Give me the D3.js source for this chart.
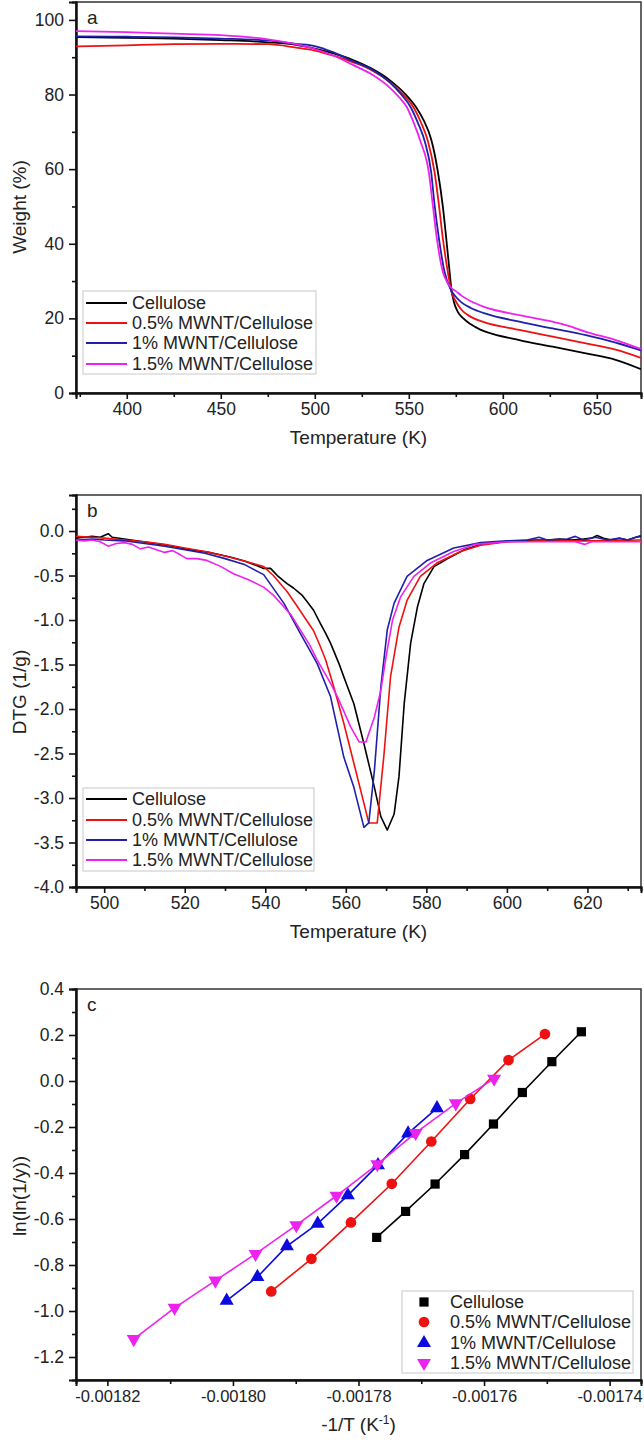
<!DOCTYPE html>
<html><head><meta charset="utf-8">
<script src="https://cdn.jsdelivr.net/npm/d3@7"></script>
<style>
body{margin:0;background:#fff;}
svg{display:block;font-family:"Liberation Sans",Arial,sans-serif;}
</style></head>
<body><svg id="chart" width="644" height="1442"></svg>
<script>
// ---------- DATA ----------
const seriesNames = ["Cellulose","0.5% MWNT/Cellulose","1% MWNT/Cellulose","1.5% MWNT/Cellulose"];
const lineColors = ["#000000","#ee1111","#1f1fa8","#ee22ee"];
const markerColors = ["#000000","#ee1111","#0b0bdd","#ee22ee"];

// Panel a: TGA weight (%) vs temperature (K)
const tgaCellulose = [[373,95.4],[400,95.2],[425,95.0],[450,94.6],[475,94.0],[490,93.3],[500,92.3],[510,91.0],[520,89.3],[530,87.0],[540,83.8],[548,80.2],[554,76.5],[558,73.0],[562,67.8],[565.4,59.5],[568.1,50.0],[569.9,41.5],[571.7,32.5],[572.6,28.0],[574,24.4],[576,21.8],[579,20.0],[583,18.4],[588,17.0],[595,15.8],[608.8,14.2],[626.5,12.4],[644.2,10.6],[660,8.9],[673.5,6.4]];
const tga05 = [[373,92.9],[400,93.2],[425,93.5],[450,93.6],[475,93.5],[490,92.6],[500,91.8],[510,90.4],[520,88.7],[530,86.6],[540,83.3],[547,80.0],[552.5,76.6],[556.5,72.5],[560.1,67.6],[563.6,59.5],[566,50.5],[568.1,41.5],[570.8,32.3],[572.6,27.3],[575,24.6],[578,22.3],[583,20.4],[590,19.0],[608.8,16.9],[626.5,15.1],[644.2,13.3],[660,11.6],[673.5,9.4]];
const tga1 = [[373,95.6],[400,95.5],[425,95.3],[450,95.0],[475,94.5],[490,93.6],[500,93.0],[510,91.3],[520,89.0],[530,86.8],[540,83.2],[546,80.0],[551,76.6],[555,72.2],[558.4,67.6],[561.9,59.2],[563.7,50.5],[566,41.5],[569,32.5],[572.6,27.4],[575,25.8],[578,24.3],[583,22.8],[590,21.4],[608.8,19.1],[626.5,17.3],[644.2,15.5],[660,13.5],[673.5,11.4]];
const tga15 = [[373,97.0],[400,96.7],[425,96.3],[450,95.9],[475,94.8],[490,93.5],[500,92.2],[510,90.4],[520,88.0],[530,85.5],[540,81.8],[545,79.2],[549,76.6],[552.5,72.6],[556.1,67.6],[560.7,59.0],[562.8,50.2],[564.9,41.5],[568.1,32.5],[570.5,29.6],[573,28.0],[575,27.3],[578,26.1],[583,24.6],[590,23.1],[608.8,20.9],[626.5,19.1],[635,18.0],[644.2,16.4],[660,14.2],[673.5,11.8]];

// Panel b: DTG (1/g) vs temperature (K)
const dtgCellulose = [[493,-0.08],[495,-0.07],[497,-0.06],[499,-0.07],[501,-0.03],[502,-0.07],[505,-0.09],[508,-0.11],[511,-0.13],[514,-0.15],[517,-0.17],[520,-0.2],[523,-0.22],[526,-0.24],[529,-0.27],[532,-0.3],[535,-0.34],[538,-0.39],[539.6,-0.42],[541.3,-0.42],[543,-0.5],[545.4,-0.59],[547,-0.64],[549.1,-0.72],[550.5,-0.8],[552,-0.89],[553.7,-1.04],[555,-1.15],[556.2,-1.26],[558.3,-1.49],[560,-1.7],[562,-1.94],[564.5,-2.39],[567.1,-2.88],[568.7,-3.21],[570.3,-3.36],[572,-3.18],[573.2,-2.76],[574.5,-1.94],[576.1,-1.26],[577.8,-0.85],[579.4,-0.59],[581.9,-0.4],[585.3,-0.31],[589.4,-0.21],[593.5,-0.15],[599.4,-0.12],[603,-0.11],[607,-0.1],[610,-0.1],[613,-0.09],[616,-0.1],[619,-0.09],[621,-0.08],[622.4,-0.05],[624,-0.08],[626,-0.1],[628,-0.08],[630,-0.1],[632,-0.07],[633.3,-0.06]];
const dtg05 = [[493,-0.06],[497,-0.07],[500,-0.08],[505,-0.1],[510,-0.12],[515,-0.15],[520,-0.19],[525,-0.23],[530,-0.28],[535,-0.34],[539.6,-0.4],[542,-0.5],[545.4,-0.68],[548,-0.85],[550.2,-1.0],[552,-1.12],[553.7,-1.3],[555,-1.45],[557,-1.75],[559.5,-2.16],[562,-2.61],[564.5,-3.06],[565.7,-3.28],[567.8,-3.28],[569.5,-2.5],[571.1,-1.64],[573.2,-1.08],[575.2,-0.78],[578.5,-0.51],[582.6,-0.36],[588.5,-0.23],[593.5,-0.16],[600,-0.12],[610,-0.11],[620,-0.11],[633.3,-0.1]];
const dtg1 = [[493,-0.1],[497,-0.09],[500,-0.1],[505,-0.11],[510,-0.14],[515,-0.17],[520,-0.21],[525,-0.25],[530,-0.31],[535,-0.38],[539.6,-0.49],[544.6,-0.81],[548.7,-1.15],[552.9,-1.49],[556.2,-1.86],[559.5,-2.54],[562,-2.88],[564.5,-3.33],[565.7,-3.28],[567.1,-2.69],[568.7,-1.75],[570.3,-1.11],[572,-0.81],[575.2,-0.51],[580.2,-0.33],[586.8,-0.19],[593.5,-0.13],[600,-0.11],[605,-0.1],[608,-0.07],[610,-0.1],[615,-0.09],[617,-0.06],[619,-0.1],[622,-0.07],[625,-0.1],[628,-0.08],[630,-0.1],[633.3,-0.05]];
const dtg15 = [[493,-0.1],[495,-0.11],[497,-0.1],[499,-0.12],[501,-0.17],[503,-0.14],[505,-0.13],[507,-0.15],[509,-0.2],[511,-0.18],[513,-0.21],[515,-0.24],[517,-0.22],[519,-0.27],[520.5,-0.31],[523,-0.31],[525.5,-0.33],[529,-0.4],[532.1,-0.48],[536,-0.55],[539.6,-0.63],[542,-0.72],[544.6,-0.85],[546.5,-0.95],[548.7,-1.11],[551,-1.28],[552.9,-1.45],[556.2,-1.71],[557.9,-1.86],[561.2,-2.2],[563.3,-2.37],[565,-2.37],[567.1,-2.09],[568.7,-1.79],[570,-1.41],[571.6,-1.0],[573.6,-0.74],[576.9,-0.51],[581,-0.36],[586.8,-0.23],[592,-0.15],[600,-0.12],[610,-0.12],[617,-0.12],[619.3,-0.15],[621,-0.12],[625,-0.12],[633.3,-0.12]];

// Panel c: ln(ln(1/y)) vs -1/T
const kinCellulose = [[-0.0017771,-0.680],[-0.0017725,-0.567],[-0.0017678,-0.448],[-0.0017631,-0.320],[-0.0017585,-0.187],[-0.0017539,-0.050],[-0.0017492,0.084],[-0.0017445,0.214]];
const kin05 = [[-0.0017939,-0.915],[-0.0017875,-0.773],[-0.0017812,-0.615],[-0.0017747,-0.447],[-0.0017684,-0.263],[-0.0017622,-0.078],[-0.0017561,0.091],[-0.0017503,0.204]];
const kin1 = [[-0.0018010,-0.955],[-0.0017961,-0.852],[-0.0017914,-0.718],[-0.0017865,-0.620],[-0.0017817,-0.497],[-0.0017769,-0.366],[-0.0017721,-0.228],[-0.0017675,-0.118]];
const kin15 = [[-0.0018158,-1.122],[-0.0018093,-0.986],[-0.0018028,-0.868],[-0.0017964,-0.752],[-0.0017899,-0.627],[-0.0017835,-0.499],[-0.0017770,-0.362],[-0.0017709,-0.226],[-0.0017645,-0.097],[-0.0017584,0.010]];

// Ticks
const aXTicks = [400,450,500,550,600,650], aXMinor = [375,425,475,525,575,625];
const aYTicks = [0,20,40,60,80,100], aYMinor = [10,30,50,70,90];
const bXTicks = [500,520,540,560,580,600,620], bXMinor = [510,530,550,570,590,610,630];
const bYTicks = [0,-0.5,-1,-1.5,-2,-2.5,-3,-3.5,-4];
const bYLabels = ["0.0","-0.5","-1.0","-1.5","-2.0","-2.5","-3.0","-3.5","-4.0"];
const bYMinor = [0.25,-0.25,-0.75,-1.25,-1.75,-2.25,-2.75,-3.25,-3.75];
const cXTicks = [-0.00182,-0.00180,-0.00178,-0.00176,-0.00174];
const cXLabels = ["-0.00182","-0.00180","-0.00178","-0.00176","-0.00174"];
const cXMinor = [-0.00181,-0.00179,-0.00177,-0.00175];
const cYTicks = [0.4,0.2,0,-0.2,-0.4,-0.6,-0.8,-1.0,-1.2];
const cYLabels = ["0.4","0.2","0.0","-0.2","-0.4","-0.6","-0.8","-1.0","-1.2"];
const cYMinor = [0.3,0.1,-0.1,-0.3,-0.5,-0.7,-0.9,-1.1];

// ---------- DRAW ----------
const svg = d3.select("#chart");
const L = 76, R = 641;

function panel(cfg){
  const g = svg.append("g");
  const x = d3.scaleLinear().domain(cfg.xd).range([L,R]);
  const y = d3.scaleLinear().domain(cfg.yd).range([cfg.bottom,cfg.top]);
  const id = "clip"+cfg.name;
  svg.append("clipPath").attr("id",id).append("rect")
    .attr("x",L).attr("y",cfg.top).attr("width",R-L).attr("height",cfg.bottom-cfg.top);
  g.append("rect").attr("x",L).attr("y",cfg.top).attr("width",R-L).attr("height",cfg.bottom-cfg.top)
    .attr("fill","none").attr("stroke","#333").attr("stroke-width",1.5);
  const ax = g.append("g").attr("transform",`translate(0,${cfg.bottom})`)
    .call(d3.axisBottom(x).tickValues(cfg.xt).tickSize(6).tickPadding(4).tickFormat((d,i)=>cfg.xl?cfg.xl[i]:d3.format("d")(d)));
  const axm = g.append("g").attr("transform",`translate(0,${cfg.bottom})`)
    .call(d3.axisBottom(x).tickValues(cfg.xm).tickSize(4).tickFormat(""));
  const ay = g.append("g").attr("transform",`translate(${L},0)`)
    .call(d3.axisLeft(y).tickValues(cfg.yt).tickSize(7).tickPadding(5).tickFormat((d,i)=>cfg.yl?cfg.yl[i]:d3.format("d")(d)));
  const aym = g.append("g").attr("transform",`translate(${L},0)`)
    .call(d3.axisLeft(y).tickValues(cfg.ym).tickSize(4).tickFormat(""));
  [ax,axm,ay,aym].forEach(a=>{
    a.select(".domain").attr("stroke","#111").attr("stroke-width",2);
    a.selectAll(".tick line").attr("stroke","#111").attr("stroke-width",1.6);
    a.selectAll(".tick text").attr("font-size",17.5).attr("fill","#222")
     .attr("font-family","'Liberation Sans',Arial,sans-serif");
  });
  g.append("text").attr("x",(L+R)/2).attr("y",cfg.bottom+51).attr("text-anchor","middle")
    .attr("font-size",19).attr("fill","#222").call(t=>cfg.xtitle(t));
  g.append("text").attr("transform",`translate(26,${cfg.ytY}) rotate(-90)`).attr("text-anchor","middle")
    .attr("font-size",19).attr("fill","#222").text(cfg.ytitle);
  g.append("text").attr("x",L+11).attr("y",cfg.top+22).attr("font-size",19).attr("fill","#222").text(cfg.letter);
  return {g,x,y,id,ax};
}

function tempTitle(t){ t.text("Temperature (K)"); }

// Panel a
const pa = panel({name:"a",xd:[373,673.5],yd:[0,104.8],top:2,bottom:393,xt:aXTicks,xm:aXMinor,yt:aYTicks,ym:aYMinor,
  xtitle:tempTitle,ytitle:"Weight (%)",ytY:207,letter:"a"});
const tgaSeries = [tgaCellulose,tga05,tga1,tga15];
const lineA = d3.line().x(d=>pa.x(d[0])).y(d=>pa.y(d[1])).curve(d3.curveMonotoneX);
pa.g.append("g").attr("clip-path",`url(#${pa.id})`).selectAll("path").data(tgaSeries).join("path")
  .attr("d",lineA).attr("fill","none").attr("stroke",(d,i)=>lineColors[i]).attr("stroke-width",1.8);

// Panel b
const pb = panel({name:"b",xd:[493,633.3],yd:[-4,0.405],top:495,bottom:887,xt:bXTicks,xm:bXMinor,yt:bYTicks,yl:bYLabels,ym:bYMinor,
  xtitle:tempTitle,ytitle:"DTG (1/g)",ytY:692,letter:"b"});
const dtgSeries = [dtgCellulose,dtg05,dtg1,dtg15];
const lineB = d3.line().x(d=>pb.x(d[0])).y(d=>pb.y(d[1]));
pb.g.append("g").attr("clip-path",`url(#${pb.id})`).selectAll("path").data(dtgSeries).join("path")
  .attr("d",lineB).attr("fill","none").attr("stroke",(d,i)=>lineColors[i]).attr("stroke-width",1.6)
  .attr("stroke-linejoin","round");

// Panel c
const pc = panel({name:"c",xd:[-0.001825,-0.001735],yd:[-1.3,0.4],top:989,bottom:1380,xt:cXTicks,xl:cXLabels,xm:cXMinor,yt:cYTicks,yl:cYLabels,ym:cYMinor,
  xtitle:t=>{t.text("-1/T (K"); t.append("tspan").attr("dy",-7).attr("font-size",12).text("-1"); t.append("tspan").attr("dy",7).text(")");},
  ytitle:"ln(ln(1/y))",ytY:1196,letter:"c"});
pc.ax.selectAll(".tick text").attr("font-size",16.5);
const kinSeries = [kinCellulose,kin05,kin1,kin15];
const lineC = d3.line().x(d=>pc.x(d[0])).y(d=>pc.y(d[1]));
const symbols = [d3.symbolSquare,d3.symbolCircle,d3.symbolTriangle,d3.symbolTriangle];
const symSize = [85,90,85,85];
function drawSym(sel,i){
  sel.attr("d",d3.symbol().type(symbols[i]).size(symSize[i])).attr("fill",markerColors[i]);
  if(i===3) sel.attr("transform",function(){return d3.select(this).attr("transform")+" rotate(180)";});
}
kinSeries.forEach((s,i)=>{
  const gg = pc.g.append("g").attr("clip-path",`url(#${pc.id})`);
  gg.append("path").attr("d",lineC(s)).attr("fill","none").attr("stroke",markerColors[i]).attr("stroke-width",1.6);
  gg.selectAll("path.m").data(s).join("path").attr("class","m")
    .attr("transform",d=>`translate(${pc.x(d[0])},${pc.y(d[1])})`)
    .call(sel=>drawSym(sel,i));
});

// Legends
function lineLegend(x0,y0,w,h,rowY){
  const g = svg.append("g");
  g.append("rect").attr("x",x0).attr("y",y0).attr("width",w).attr("height",h).attr("fill","#fff").attr("stroke","#c8c8c8").attr("stroke-width",1);
  seriesNames.forEach((n,i)=>{
    g.append("line").attr("x1",x0+3).attr("x2",x0+44).attr("y1",rowY[i]).attr("y2",rowY[i]).attr("stroke",lineColors[i]).attr("stroke-width",1.8);
    g.append("text").attr("x",x0+49).attr("y",rowY[i]+6).attr("font-size",18).attr("fill","#222").text(n);
  });
}
lineLegend(83,291,233,83,[303,323,343,364]);
lineLegend(83,788,231,83,[799,820,840,860]);
{
  const g = svg.append("g");
  g.append("rect").attr("x",402).attr("y",1291).attr("width",231).attr("height",82).attr("fill","#fff").attr("stroke","#c8c8c8").attr("stroke-width",1);
  const rows=[1302,1322,1343,1363];
  seriesNames.forEach((n,i)=>{
    g.append("path").attr("transform",`translate(424,${rows[i]})`).call(sel=>drawSym(sel,i));
    g.append("text").attr("x",450).attr("y",rows[i]+6).attr("font-size",18).attr("fill","#222").text(n);
  });
}
</script></body></html>
